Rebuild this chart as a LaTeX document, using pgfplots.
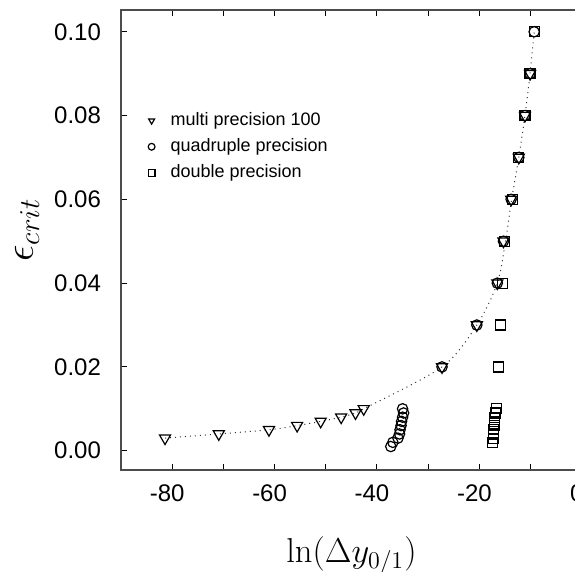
\documentclass[border=0pt]{standalone}
\usepackage[no-math]{fontspec}
\setmainfont{Liberation Sans}
\usepackage{pgfplots}
\pgfplotsset{compat=1.18}
\pgfplotsset{myleg/.style={legend image code/.code={%
  \path[draw=none,fill=none] (0pt,-2pt) rectangle (16pt,2pt);
  \draw[##1, mark size=1.7pt] plot coordinates {(8.5pt,0pt)};}}}
\begin{document}
\begin{tikzpicture}
\begin{axis}[
  scale only axis,
  width=230.4pt, height=230pt,
  xmin=-90, xmax=0,
  ymin=-0.0046, ymax=0.1052,
  xtick={-80,-70,-60,-50,-40,-30,-20,-10,0},
  xticklabels={-80,,-60,,-40,,-20,,0},
  ytick={0,0.02,0.04,0.06,0.08,0.10},
  yticklabels={0.00,0.02,0.04,0.06,0.08,0.10},
  /pgf/number format/assume math mode=true,
  tick style={black, line width=0.5pt},
  major tick length=3pt,
  axis line style={line width=0.6pt, black!70},
  tick label style={font=\fontsize{12}{14}\selectfont},
  xticklabel style={xshift=-2.5pt, yshift=-4pt},
  yticklabel style={xshift=-6.5pt},
  xlabel={$\ln(\Delta y_{0/1})$},
  ylabel={$\epsilon_{crit}$},
  xlabel style={font=\fontsize{16.5}{19}\selectfont, at={(rel axis cs:0.5,0)}, anchor=center, yshift=-43pt},
  ylabel style={font=\fontsize{21.5}{24}\selectfont, at={(rel axis cs:0,0.5)}, anchor=center, yshift=47pt, xshift=5pt},
  legend style={at={(rel axis cs:0.02,0.795)}, anchor=north west, draw=none, fill=none,
    font=\fontsize{9}{10}\selectfont, row sep=1pt, inner sep=2pt},
  legend cell align=left,
]
\addplot[black!80, dotted, line width=0.5pt, smooth, forget plot] coordinates {
(-81.4,0.003) (-70.9,0.004) (-61.1,0.005) (-55.6,0.006) (-51.0,0.007)
(-47.0,0.008) (-44.2,0.009) (-42.6,0.010) (-27.3,0.02) (-20.5,0.03)
(-16.5,0.04) (-14.9,0.05) (-13.7,0.06) (-12.3,0.07) (-11.1,0.08)
(-10.1,0.09) (-9.3,0.10)};
\addplot[only marks, myleg, mark=triangle, mark size=3.2pt, mark options={rotate=180, line width=0.6pt, black}] coordinates {
(-81.4,0.003) (-70.9,0.004) (-61.1,0.005) (-55.6,0.006) (-51.0,0.007)
(-47.0,0.008) (-44.2,0.009) (-42.6,0.010) (-27.3,0.02) (-20.5,0.03)
(-16.5,0.04) (-15.3,0.05) (-13.8,0.06) (-12.3,0.07) (-11.1,0.08)
(-10.1,0.09)};
\addlegendentry{multi precision 100}
\addplot[only marks, myleg, mark=o, mark size=2.6pt, mark options={line width=0.6pt, black}] coordinates {
(-37.3,0.001) (-36.9,0.002) (-35.9,0.003) (-35.6,0.004) (-35.5,0.005)
(-35.3,0.006) (-35.2,0.007) (-35.0,0.008) (-34.8,0.009) (-35.0,0.010)
(-27.3,0.02) (-20.5,0.03) (-16.5,0.04) (-15.3,0.05) (-13.8,0.06)
(-12.3,0.07) (-11.1,0.08) (-10.1,0.09) (-9.3,0.10)};
\addlegendentry{quadruple precision}
\addplot[only marks, myleg, mark=square, mark size=2.5pt, mark options={line width=0.6pt, black}] coordinates {
(-17.4,0.002) (-17.3,0.003) (-17.2,0.004) (-17.2,0.005) (-17.1,0.006)
(-17.0,0.007) (-17.0,0.008) (-16.9,0.009) (-16.7,0.010)
(-16.3,0.02) (-15.8,0.03) (-15.5,0.04) (-15.1,0.05) (-13.6,0.06)
(-12.3,0.07) (-11.1,0.08) (-10.1,0.09) (-9.3,0.10)};
\addlegendentry{double precision}
\coordinate (bl) at (rel axis cs:0,0);
\coordinate (tr) at (rel axis cs:1,1);
\end{axis}
\pgfresetboundingbox
\path[use as bounding box] ([shift={(-60.5pt,-51pt)}]bl) rectangle ([shift={(227pt,5pt)}]bl |- tr);
\end{tikzpicture}
\end{document}
